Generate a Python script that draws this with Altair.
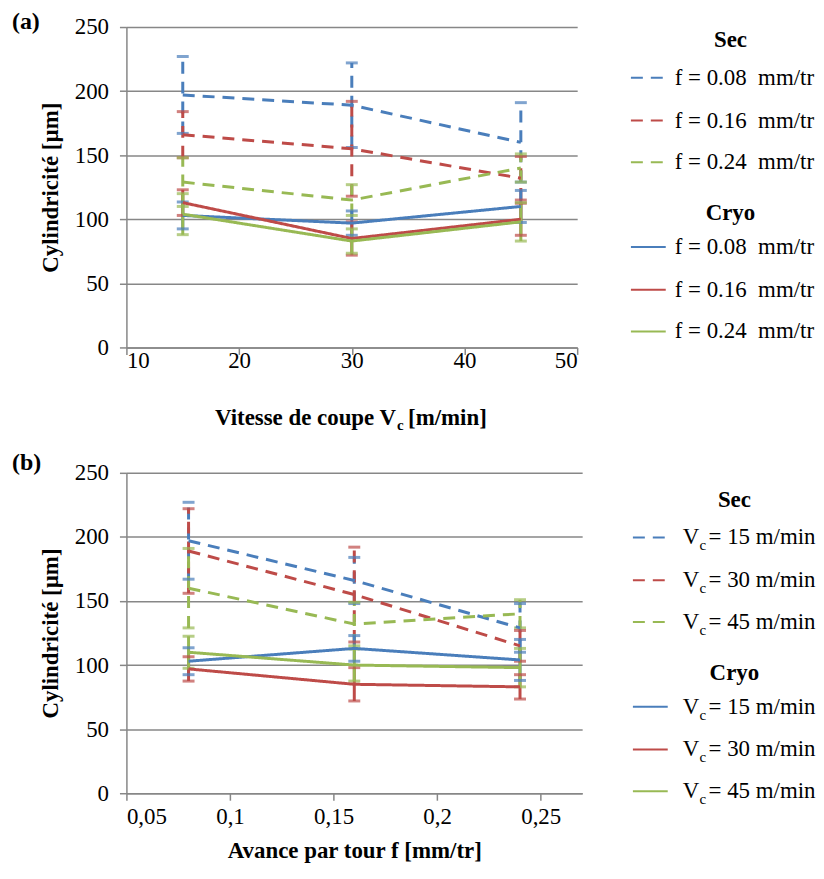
import altair as alt
import pandas as pd

# ---------------- data ----------------
vc_values = [15, 30, 45]            # cutting speed Vc [m/min]
f_values = [0.08, 0.16, 0.24]       # feed f [mm/tr]

# rows: feed f (0.08, 0.16, 0.24); columns: Vc (15, 30, 45)
sec_mean = [[197, 189, 160],
            [166, 155, 132],
            [129, 115, 140]]
sec_err = [[30, 33, 31],
           [18, 37, 17],
           [19, 12, 11]]
cryo_mean = [[103, 97, 110],
             [113, 85, 100],
             [104, 83, 98]]
cryo_err = [[10.5, 9.5, 12.5],
            [10, 13, 12.5],
            [16, 9.5, 15]]

legend_a_labels = ["f = 0.08\u00a0 mm/tr", "f = 0.16\u00a0 mm/tr", "f = 0.24\u00a0 mm/tr"]
legend_b_values = ["15", "30", "45"]

y_ticks = [0, 50, 100, 150, 200, 250]
xa_ticks = [10, 20, 30, 40, 50]
xb_ticks = [0.05, 0.1, 0.15, 0.2, 0.25]

# ---------------- styling ----------------
LINE_COLORS = ["#4A7EBB", "#BE4B48", "#98B954"]
LEG_COLORS = ["#4A7EBB", "#BE4B48", "#00B050"]
GRID = "#878787"
FONT = "Liberation Serif"
FS = 23
H = 322
LW = 3

rows = []
for cond, M, E in (("Sec", sec_mean, sec_err), ("Cryo", cryo_mean, cryo_err)):
    for i, fv in enumerate(f_values):
        for j, v in enumerate(vc_values):
            m, e = M[i][j], E[i][j]
            rows.append(dict(cond=cond, vc=v, f=fv, fi=str(i), vj=str(j),
                             mean=m, lo=m - e, hi=m + e))
df = pd.DataFrame(rows)
df["ga"] = df["cond"] + df["fi"]
df["gb"] = df["cond"] + df["vj"]


def y_axis():
    return alt.Axis(values=y_ticks, title="Cylindricité [µm]", titleFont=FONT,
                    titleFontSize=FS, titleFontWeight="bold", titleColor="black",
                    titlePadding=12, labelFont=FONT, labelFontSize=FS,
                    labelColor="black", labelPadding=11, grid=True,
                    gridColor=GRID, gridWidth=1.5, domainColor=GRID,
                    domainWidth=1.5, tickColor=GRID, tickWidth=1.5, tickSize=7)


def panel(xfield, xscale, xaxis, series, group, width, tag, tag_y):
    base = alt.Chart(df)
    x = alt.X(f"{xfield}:Q", scale=xscale, axis=xaxis)
    color = alt.Color(f"{series}:N", scale=alt.Scale(domain=["0", "1", "2"],
                                                     range=LINE_COLORS), legend=None)
    dash = alt.StrokeDash("cond:N", scale=alt.Scale(domain=["Sec", "Cryo"],
                                                    range=[[12, 8], [1, 0]]), legend=None)
    y = alt.Y("mean:Q", scale=alt.Scale(domain=[0, 250], nice=False), axis=y_axis())
    rule = base.mark_rule(strokeWidth=LW).encode(
        x=x, y=alt.Y("lo:Q", scale=alt.Scale(domain=[0, 250], nice=False), axis=y_axis()),
        y2="hi:Q", color=color, strokeDash=dash, detail=f"{group}:N")
    cap_lo = base.mark_tick(orient="horizontal", size=12, thickness=LW).encode(
        x=x, y="lo:Q", color=color)
    cap_hi = base.mark_tick(orient="horizontal", size=12, thickness=LW).encode(
        x=x, y="hi:Q", color=color)
    line = base.mark_line(strokeWidth=LW).encode(
        x=x, y=y, color=color, strokeDash=dash, detail=f"{group}:N")
    label = alt.Chart(pd.DataFrame({"t": [tag]})).mark_text(
        font=FONT, fontSize=24, fontWeight="bold", align="left", baseline="middle",
        color="black").encode(text="t:N", x=alt.value(-115), y=alt.value(tag_y))
    return alt.layer(rule, cap_lo, cap_hi, line, label).properties(width=width, height=H)


# ---- panel (a)
xa_axis = alt.Axis(values=xa_ticks, title=None, grid=False, labelFont=FONT,
                   labelFontSize=FS, labelColor="black", labelPadding=-5,
                   domainColor=GRID, domainWidth=1.5, tickColor=GRID,
                   tickWidth=1.5, tickSize=7)
pa = panel("vc", alt.Scale(domain=[10, 50], nice=False), xa_axis, "fi", "ga", 453, "(a)", -5)
title_a = alt.Chart(pd.DataFrame({"t1": ["Vitesse de coupe V"], "t2": ["c"],
                                  "t3": ["[m/min]"]}))
ta1 = title_a.mark_text(font=FONT, fontSize=FS, fontWeight="bold", align="right",
                        baseline="alphabetic", color="black").encode(
    text="t1:N", x=alt.value(271), y=alt.value(H + 78))
ta2 = title_a.mark_text(font=FONT, fontSize=15, fontWeight="bold", align="left",
                        baseline="alphabetic", color="black").encode(
    text="t2:N", x=alt.value(272), y=alt.value(H + 83))
ta3 = title_a.mark_text(font=FONT, fontSize=FS, fontWeight="bold", align="left",
                        baseline="alphabetic", color="black").encode(
    text="t3:N", x=alt.value(283), y=alt.value(H + 78))
pa = alt.layer(pa, ta1, ta2, ta3)

# ---- panel (b)
xb_axis = alt.Axis(values=xb_ticks, title="Avance par tour f [mm/tr]", grid=False,
                   labelExpr="replace(format(datum.value, '.2~f'), '.', ',')",
                   labelFont=FONT, labelFontSize=FS, labelColor="black",
                   labelPadding=5, titleFont=FONT, titleFontSize=FS,
                   titleFontWeight="bold", titleColor="black", titlePadding=12,
                   domainColor=GRID, domainWidth=1.5, tickColor=GRID,
                   tickWidth=1.5, tickSize=7)
pb = panel("f", alt.Scale(domain=[0.05, 0.27], nice=False), xb_axis, "vj", "gb", 458, "(b)", -10)


# ---------------- legends ----------------
def legend(labels, sub, top, sw_x, txt_x):
    recs = []
    ys_sec = [top + 38, top + 81, top + 123]
    ys_cry = [top + 208, top + 251, top + 293]
    for k in range(3):
        recs.append(dict(py=ys_sec[k], s=str(k), cond="Sec", lab=labels[k]))
        recs.append(dict(py=ys_cry[k], s=str(k), cond="Cryo", lab=labels[k]))
    ld = pd.DataFrame(recs)
    yenc = alt.Y("py:Q", scale=alt.Scale(domain=[0, H], reverse=True, nice=False), axis=None)
    col = alt.Color("s:N", scale=alt.Scale(domain=["0", "1", "2"], range=LEG_COLORS), legend=None)
    sw = alt.Chart(ld).mark_rule(strokeWidth=2).encode(
        x=alt.value(sw_x), x2=alt.value(sw_x + 35), y=yenc, color=col,
        strokeDash=alt.StrokeDash("cond:N", scale=alt.Scale(domain=["Sec", "Cryo"],
                                                            range=[[3, 1.5], [1, 0]]), legend=None))
    layers = [sw]
    if sub:
        layers.append(alt.Chart(ld).mark_text(font=FONT, fontSize=FS, align="left",
                                              baseline="middle", color="black").encode(
            x=alt.value(txt_x), y=yenc, text=alt.value("V")))
        layers.append(alt.Chart(ld).mark_text(font=FONT, fontSize=15, align="left",
                                              baseline="middle", color="black", dy=8).encode(
            x=alt.value(txt_x + 17), y=yenc, text=alt.value("c")))
        layers.append(alt.Chart(ld).mark_text(font=FONT, fontSize=FS, align="left",
                                              baseline="middle", color="black").encode(
            x=alt.value(txt_x + 26), y=yenc, text=alt.Text("lab:N")))
    else:
        layers.append(alt.Chart(ld).mark_text(font=FONT, fontSize=FS, align="left",
                                              baseline="middle", color="black").encode(
            x=alt.value(txt_x), y=yenc, text=alt.Text("lab:N")))
    hd = pd.DataFrame({"py": [top, top + 174], "h": ["Sec", "Cryo"]})
    layers.append(alt.Chart(hd).mark_text(font=FONT, fontSize=FS, fontWeight="bold",
                                          align="center", baseline="middle",
                                          color="black").encode(
        x=alt.value(153), y=yenc, text="h:N"))
    return alt.layer(*layers).properties(width=228, height=H)


leg_a = legend(legend_a_labels, False, 13, 53, 97)
leg_b = legend(["= " + v + " m/min" for v in legend_b_values], True, 27, 51, 101)

row_a = alt.hconcat(pa, leg_a, spacing=0)
row_b = alt.hconcat(pb, leg_b, spacing=0)

chart = alt.vconcat(row_a, row_b, spacing=18).properties(
    padding={"left": 4, "top": 0, "right": 0, "bottom": 0}
).configure(font=FONT).configure_view(strokeWidth=0)

chart.save("out.html", embed_options={"renderer": "svg", "actions": False})
